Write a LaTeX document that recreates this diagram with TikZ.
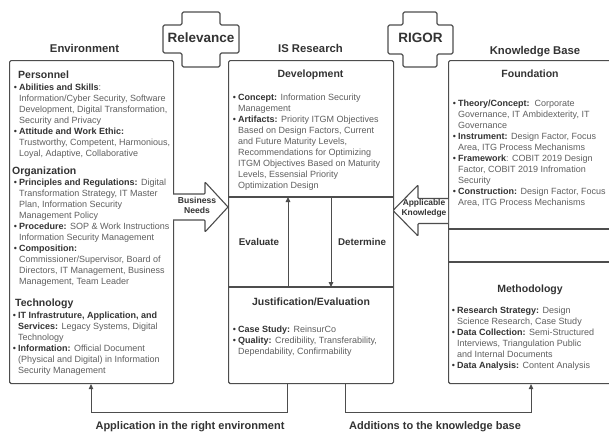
\documentclass[tikz,border=0pt]{standalone}
\usepackage{fontspec}
\setmainfont{Liberation Sans}
\usetikzlibrary{arrows.meta}
\definecolor{linec}{HTML}{4D4D4D}
\definecolor{headc}{HTML}{333333}
\definecolor{bodyc}{HTML}{5F5F5F}
\newcommand\tb[1]{{\bfseries\color{headc}#1}}
\newcommand\bl{\llap{{\color{headc}\textbullet}\hspace{2.2pt}}}
\newcommand\st{\rule{0pt}{7pt}}
\tikzset{
  box/.style={draw=linec, line width=1.1pt, rounded corners=1.5pt, fill=white, inner sep=0pt},
  ln/.style={draw=linec, line width=1.1pt},
  conn/.style={draw=linec, line width=1pt, -{Triangle[length=5pt,width=4.5pt]}},
  blockarrow/.style={draw=linec, line width=1.1pt, fill=white, rounded corners=0.8pt, line join=round},
  hd/.style={font={\bfseries\fontsize{11.3}{13}\selectfont}, text=headc, anchor=base, inner sep=0pt},
  crosslbl/.style={font={\bfseries\fontsize{13.5}{15}\selectfont}, text=headc, anchor=base, inner sep=0pt},
  sec/.style={font={\bfseries\fontsize{10.5}{12}\selectfont}, text=headc, anchor=base, inner sep=0pt},
  body/.style={font={\fontsize{9}{11}\selectfont}, text=bodyc, anchor=north west, inner sep=0pt, align=left},
  lbl/.style={font={\bfseries\fontsize{9.8}{11}\selectfont}, text=headc, anchor=base, inner sep=0pt},
  arrlbl/.style={font={\bfseries\fontsize{8.6}{10}\selectfont}, text=headc, align=center, inner sep=0pt},
}
\begin{document}
\begin{tikzpicture}[x=1pt,y=-1pt]
\path[fill=white, use as bounding box] (0,0) rectangle (609,432);

% ---- headings
\node[hd] (henv) at (84.5,52) {Environment};
\node[hd] (his) at (310.5,52) {IS Research};
\node[hd] (hkb) at (535,54) {Knowledge Base};

% ---- crosses
\draw[blockarrow, rounded corners=1.5pt] (182,12) -- (220,12) -- (220,25) -- (239,25) -- (239,53) -- (220,53) -- (220,67) -- (182,67) -- (182,53) -- (163,53) -- (163,25) -- (182,25) -- cycle;
\node[crosslbl] (relev) at (201,42.8) {Relevance};
\draw[blockarrow, rounded corners=1.5pt] (403,12) -- (437,12) -- (437,25) -- (453,25) -- (453,54) -- (437,54) -- (437,67) -- (403,67) -- (403,54) -- (388,54) -- (388,25) -- (403,25) -- cycle;
\node[crosslbl] (rigor) at (420.5,42.8) {RIGOR};

% ---- boxes
\node[box, anchor=north west, minimum width=164pt, minimum height=323pt] (env) at (9,60) {};
\node[box, anchor=north west, minimum width=165pt, minimum height=323pt] (is) at (228,60) {};
\node[box, anchor=north west, minimum width=172pt, minimum height=323pt] (kb) at (448,60) {};

% IS Research sections
\coordinate (devL) at (228,197);
\coordinate (devR) at (393,197);
\coordinate (jusL) at (228,287);
\coordinate (jusR) at (393,287);
\draw[ln] (devL) -- (devR);
\draw[ln] (jusL) -- (jusR);
% KB sections
\coordinate (fndL) at (448,229);
\coordinate (fndR) at (620,229);
\coordinate (metL) at (448,262);
\coordinate (metR) at (620,262);
\draw[ln] (fndL) -- (fndR);
\draw[ln] (metL) -- (metR);

% ---- Environment content
\node[sec, anchor=base west] (pers) at (18,78.3) {Personnel};
\node[body] (persb) at (19,83.2) {\st\bl\tb{Abilities and Skills}:\\
Information/Cyber Security, Software\\
Development, Digital Transformation,\\
Security and Privacy\\
\bl\tb{Attitude and Work Ethic:}\\
Trustworthy, Competent, Harmonious,\\
Loyal, Adaptive, Collaborative};
\node[sec, anchor=base west] (org) at (12,174) {Organization};
\node[body] (orgb) at (19,178.2) {\st\bl\tb{Principles and Regulations:} Digital\\
Transformation Strategy, IT Master\\
Plan, Information Security\\
Management Policy\\
\bl\tb{Procedure:} SOP \& Work Instructions\\
Information Security Management\\
\bl\tb{Composition:}\\
Commissioner/Supervisor, Board of\\
Directors, IT Management, Business\\
Management, Team Leader};
\node[sec, anchor=base west] (tech) at (15,306) {Technology};
\node[body] (techb) at (18,311.2) {\st\bl\tb{IT Infrastruture, Application, and}\\
\tb{Services:} Legacy Systems, Digital\\
Technology\\
\bl\tb{Information:} Official Document\\
(Physical and Digital) in Information\\
Security Management};

% ---- IS Research content
\node[sec] (dev) at (310.5,77) {Development};
\node[body] (devb) at (238,93.2) {\st\bl\tb{Concept:} Information Security\\
Management\\
\bl\tb{Artifacts:} Priority ITGM Objectives\\
Based on Design Factors, Current\\
and Future Maturity Levels,\\
Recommendations for Optimizing\\
ITGM Objectives Based on Maturity\\
Levels, Essensial Priority\\
Optimization Design};
\node[lbl] (eval) at (259,245.5) {Evaluate};
\node[lbl] (determ) at (362,245.5) {Determine};
\coordinate (evB) at (288,287);
\coordinate (evT) at (288,197);
\coordinate (deT) at (331,197);
\coordinate (deB) at (331,287);
\draw[conn] (evB) -- (evT);
\draw[conn] (deT) -- (deB);
\node[sec] (just) at (311,305) {Justification/Evaluation};
\node[body] (justb) at (238,325.2) {\st\bl\tb{Case Study:} ReinsurCo\\
\bl\tb{Quality:} Credibility, Transferability,\\
Dependability, Confirmability};

% ---- Knowledge Base content
\node[sec] (fnd) at (530,77) {Foundation};
\node[body] (fndb) at (458,99.2) {\st\bl\tb{Theory/Concept:}\ \ Corporate\\
Governance, IT Ambidexterity, IT\\
Governance\\
\bl\tb{Instrument:} Design Factor, Focus\\
Area, ITG Process Mechanisms\\
\bl\tb{Framework}: COBIT 2019 Design\\
Factor, COBIT 2019 Infromation\\
Security\\
\bl\tb{Construction:} Design Factor, Focus\\
Area, ITG Process Mechanisms};
\node[sec] (meth) at (530,292) {Methodology};
\node[body] (methb) at (457,306.2) {\st\bl\tb{Research Strategy:} Design\\
Science Research, Case Study\\
\bl\tb{Data Collection:} Semi-Structured\\
Interviews, Triangulation Public\\
and Internal Documents\\
\bl\tb{Data Analysis:} Content Analysis};

% ---- block arrows
\draw[blockarrow] (173,194) -- (205,194) -- (205,182) -- (228,207) -- (205,232) -- (205,220) -- (173,220);
\node[arrlbl] (bneeds) at (197,205.5) {Business\\Needs};
\draw[blockarrow] (448,198.5) -- (418,198.5) -- (418,185) -- (393,210.5) -- (418,236) -- (418,223.5) -- (448,223.5);
\node[arrlbl, font={\bfseries\fontsize{8.4}{9.5}\selectfont}] (appk) at (424,208.5) {Applicable\\Knowledge};

% ---- bottom connectors
\path (is.south west) ++(59,0) coordinate (jA);
\path (is.south west) ++(117,0) coordinate (jB);
\path (env.south west) ++(82,0) coordinate (eA);
\path (kb.south west) ++(83,0) coordinate (kA);
\draw[conn] (jA) -- ++(0,28) -| (eA);
\draw[conn] (jB) -- ++(0,28) -| (kA);
\node[hd, font={\bfseries\fontsize{11}{13}\selectfont}] (appenv) at (190,429) {Application in the right environment};
\node[hd, font={\bfseries\fontsize{11}{13}\selectfont}] (addkb) at (435,429) {Additions to the knowledge base};
\end{tikzpicture}
\end{document}
